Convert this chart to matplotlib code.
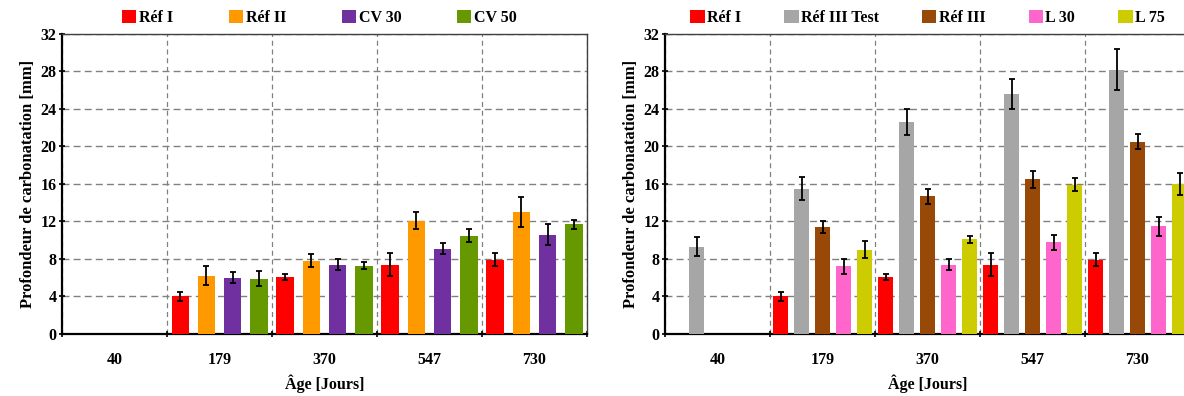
import numpy as np
import matplotlib.pyplot as plt
from matplotlib.ticker import MultipleLocator

plt.rcParams['font.family'] = ['Liberation Serif', 'DejaVu Serif']
plt.rcParams['font.weight'] = 'bold'
plt.rcParams['axes.labelweight'] = 'bold'

ages = ['40', '179', '370', '547', '730']

# panneau gauche
left_names = ['Réf I', 'Réf II', 'CV 30', 'CV 50']
left_colors = ['#FF0000', '#FF9900', '#7030A0', '#669900']
ref1 = [np.nan, 4.0, 6.1, 7.4, 7.9]
ref1_err = [np.nan, 0.5, 0.3, 1.2, 0.7]
ref2 = [np.nan, 6.2, 7.8, 12.1, 13.0]
ref2_err = [np.nan, 1.0, 0.7, 0.9, 1.6]
cv30 = [np.nan, 6.0, 7.4, 9.1, 10.6]
cv30_err = [np.nan, 0.6, 0.6, 0.6, 1.1]
cv50 = [np.nan, 5.9, 7.3, 10.5, 11.7]
cv50_err = [np.nan, 0.8, 0.4, 0.7, 0.5]

# panneau droit
right_names = ['Réf I', 'Réf III Test', 'Réf III', 'L 30', 'L 75']
right_colors = ['#FF0000', '#A6A6A6', '#984807', '#FF66CC', '#CCCC00']
ref3t = [9.3, 15.5, 22.6, 25.6, 28.2]
ref3t_err = [1.0, 1.2, 1.4, 1.6, 2.2]
ref3 = [np.nan, 11.4, 14.7, 16.5, 20.5]
ref3_err = [np.nan, 0.6, 0.8, 0.9, 0.8]
l30 = [np.nan, 7.2, 7.4, 9.8, 11.5]
l30_err = [np.nan, 0.8, 0.6, 0.8, 1.0]
l75 = [np.nan, 9.0, 10.1, 15.9, 16.0]
l75_err = [np.nan, 0.9, 0.4, 0.7, 1.2]

left_data = [(ref1, ref1_err), (ref2, ref2_err), (cv30, cv30_err), (cv50, cv50_err)]
right_data = [(ref1, ref1_err), (ref3t, ref3t_err), (ref3, ref3_err), (l30, l30_err), (l75, l75_err)]


def panel(ax, data, names, colors, step, width, colspace, anchor_x):
    x = np.arange(len(ages))
    n = len(data)
    handles = []
    for i, (vals, errs) in enumerate(data):
        pos = x + (i - (n - 1) / 2) * step
        b = ax.bar(pos, vals, width, color=colors[i], label=names[i], zorder=3)
        ax.errorbar(pos, vals, yerr=errs, fmt='none', ecolor='black',
                    elinewidth=1.3, capsize=2, capthick=1.3, zorder=4)
        handles.append(b)
    ax.set_xlim(-0.5, len(ages) - 0.5)
    ax.set_ylim(0, 32)
    ax.yaxis.set_major_locator(MultipleLocator(4))
    ax.set_xticks(x)
    ax.set_xticklabels(ages)
    ax.set_xticks(np.arange(-0.5, len(ages)), minor=True)
    ax.tick_params(axis='x', which='major', length=0, pad=13, labelsize=11.5)
    ax.tick_params(axis='x', which='minor', length=4, width=1.2, direction='inout')
    ax.tick_params(axis='y', length=4, width=1.2, direction='inout', labelsize=11.5, pad=2)
    ax.grid(axis='y', which='major', color='#808080', linestyle=(0, (5, 3)), linewidth=1.0, zorder=0)
    ax.grid(axis='x', which='minor', color='#808080', linestyle=(0, (4, 3)), linewidth=0.9, zorder=0)
    for s in ['top', 'right']:
        ax.spines[s].set_linewidth(1.0)
        ax.spines[s].set_color('#404040')
    for s in ['left', 'bottom']:
        ax.spines[s].set_linewidth(1.6)
    ax.set_ylabel('Profondeur de carbonatation [mm]', fontsize=12, labelpad=3)
    ax.set_xlabel('Âge [Jours]', fontsize=11.5, labelpad=5)
    ax.legend(handles=handles, loc='lower center', bbox_to_anchor=(anchor_x, 1.0),
              ncol=n, frameon=False, fontsize=11.5, handlelength=0.9, handleheight=0.9,
              handletextpad=0.15, columnspacing=colspace, borderaxespad=0.1)


fig = plt.figure(figsize=(11.84, 3.96), dpi=100)
ax1 = fig.add_axes([0.0524, 0.1566, 0.4434, 0.7576])
ax2 = fig.add_axes([0.5617, 0.1566, 0.4434, 0.7576])

panel(ax1, left_data, left_names, left_colors, 0.25, 0.165, 3.5, 0.49)
panel(ax2, right_data, right_names, right_colors, 0.2, 0.14, 2.7, 0.50)

fig.savefig('out.png', dpi=100)
